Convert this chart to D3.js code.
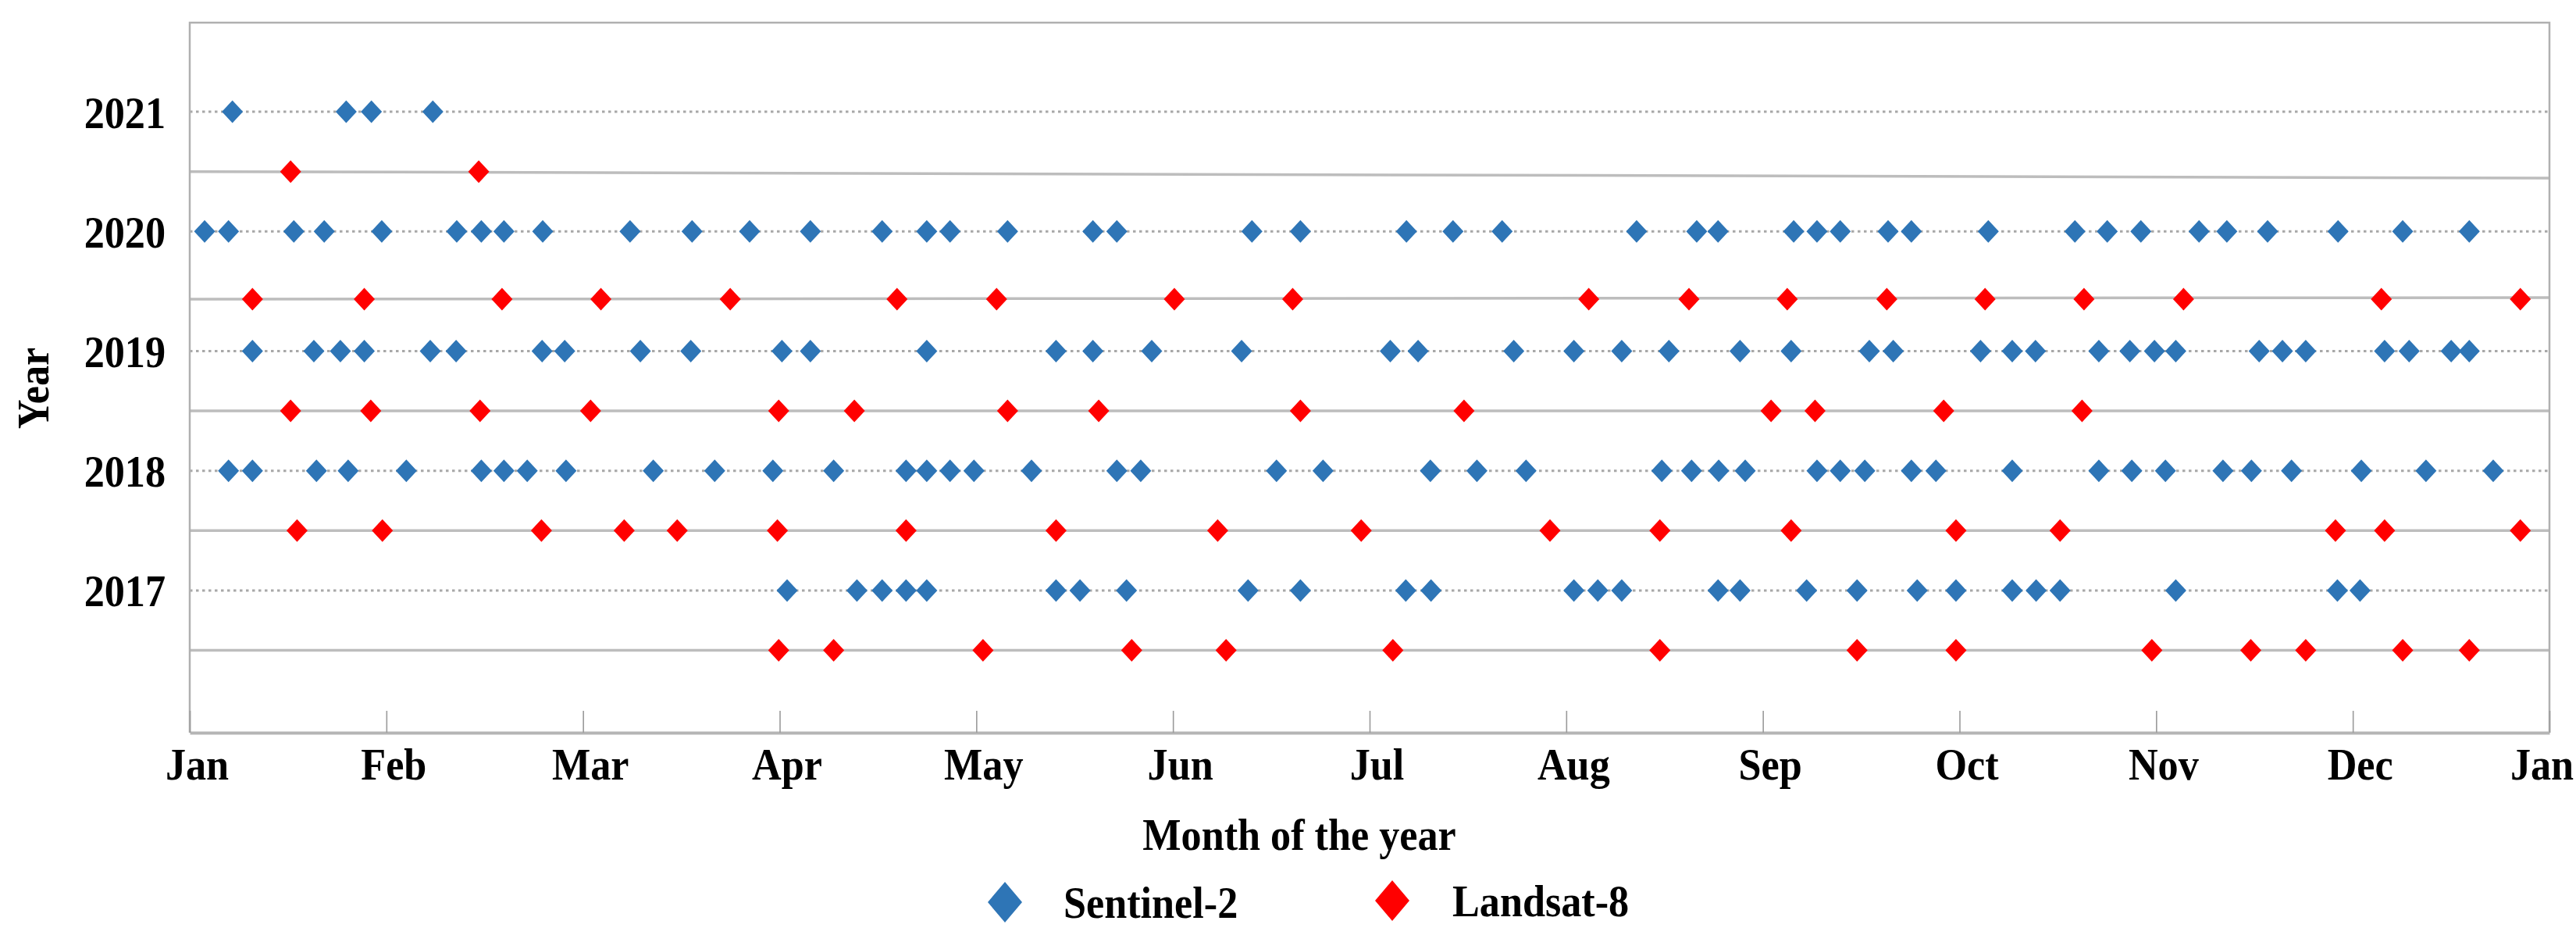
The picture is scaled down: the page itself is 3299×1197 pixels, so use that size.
<!DOCTYPE html>
<html><head><meta charset="utf-8">
<script src="https://cdn.jsdelivr.net/npm/d3@7"></script>
<style>html,body{margin:0;padding:0;background:#fff;} svg{display:block;}</style>
</head><body>
<svg id="chart" width="3299" height="1197"></svg>
<script>
// ---------- data (day of year of each acquisition) ----------
const monthLabels = ["Jan","Feb","Mar","Apr","May","Jun","Jul","Aug","Sep","Oct","Nov","Dec","Jan"];
const yearTicks = [2017, 2018, 2019, 2020, 2021];

const s2_2021 = [6.6, 24.2, 28.1, 37.6];
const s2_2020 = [2.3, 6.0, 16.1, 20.8, 29.7, 41.3, 45.1, 48.6, 54.6, 68.1, 77.7, 86.6, 96.0, 107.1, 114.0, 117.6, 126.5, 139.7, 143.4, 164.3, 171.8, 188.2, 195.4, 203.0, 223.8, 233.1, 236.4, 248.1, 251.7, 255.3, 262.7, 266.3, 278.2, 291.6, 296.6, 301.8, 310.8, 315.1, 321.4, 332.3, 342.3, 352.6];
const s2_2019 = [9.7, 19.2, 23.3, 27.0, 37.2, 41.2, 54.5, 58.0, 69.7, 77.5, 91.6, 96.0, 114.0, 134.0, 139.7, 148.8, 162.7, 185.7, 190.0, 204.8, 214.1, 221.5, 228.8, 239.8, 247.7, 259.8, 263.5, 277.0, 281.9, 285.5, 295.3, 300.1, 303.9, 307.2, 320.1, 323.7, 327.3, 339.5, 343.3, 349.8, 352.6];
const s2_2018 = [6.0, 9.7, 19.6, 24.5, 33.5, 45.1, 48.6, 52.2, 58.2, 71.7, 81.2, 90.2, 99.6, 110.8, 114.0, 117.6, 121.3, 130.2, 143.4, 147.1, 168.1, 175.3, 191.9, 199.1, 206.7, 227.7, 232.3, 236.5, 240.6, 251.7, 255.3, 259.1, 266.3, 270.1, 281.9, 295.3, 300.4, 305.6, 314.5, 318.9, 325.1, 335.9, 345.9, 356.3];
const s2_2017 = [92.4, 103.2, 107.1, 110.8, 114.0, 134.0, 137.7, 144.9, 163.7, 171.8, 188.1, 192.0, 214.1, 217.8, 221.5, 236.4, 239.8, 250.1, 257.9, 267.2, 273.2, 281.9, 285.6, 289.3, 307.2, 332.2, 335.7];

const l8_2021 = [15.6, 44.7];
const l8_2020 = [9.7, 27.0, 48.3, 63.6, 83.6, 109.4, 124.8, 152.3, 170.6, 216.4, 231.9, 247.1, 262.5, 277.7, 293.0, 308.4, 339.0, 360.5];
const l8_2019 = [15.6, 28.0, 44.9, 62.0, 91.1, 102.8, 126.5, 140.6, 171.8, 197.1, 244.6, 251.4, 271.3, 292.7];
const l8_2018 = [16.6, 29.8, 54.4, 67.2, 75.4, 90.9, 110.8, 134.0, 159.0, 181.2, 210.4, 227.4, 247.7, 273.2, 289.3, 331.9, 339.5, 360.5];
const l8_2017 = [91.1, 99.6, 122.7, 145.7, 160.3, 186.1, 227.4, 257.9, 273.2, 303.5, 318.8, 327.3, 342.3, 352.6];

// row value (y axis units) at which each Landsat year is drawn, and the guide line ends
const l8Years      = [2021, 2020, 2019, 2018, 2017];
const l8RowY       = [2020.5, 2019.434, 2018.5, 2017.5, 2016.5];
const l8LineStartY = [2020.5, 2019.434, 2018.5, 2017.5, 2016.5];
const l8LineEndY   = [2020.445, 2019.447, 2018.5, 2017.5, 2016.5];

const s2Years = [2021, 2020, 2019, 2018, 2017];
const s2Data = [s2_2021, s2_2020, s2_2019, s2_2018, s2_2017];
const l8Data = [l8_2021, l8_2020, l8_2019, l8_2018, l8_2017];

// ---------- drawing ----------
const svg = d3.select("#chart");
const L = 243, R = 3265, T = 29, B = 938;
const x = d3.scaleLinear().domain([0, 365]).range([L, R]);
const y = d3.scaleLinear().domain([2015.812, 2021.744]).range([B, T]);

const FONT = "'Liberation Serif','Times New Roman',serif";
const FS = 58, SX = 0.9;
const blue = "#2E75B6", red = "#FF0000";

const diamond = (hw, hh) => ({
  draw(ctx) { ctx.moveTo(0, -hh); ctx.lineTo(hw, 0); ctx.lineTo(0, hh); ctx.lineTo(-hw, 0); ctx.closePath(); }
});
const plotSym = d3.symbol().type(diamond(13.5, 14.5));
const legSym = d3.symbol().type(diamond(22, 26));

// dotted year gridlines
svg.append("g").selectAll("line").data(yearTicks).join("line")
  .attr("x1", x(0)).attr("x2", x(365))
  .attr("y1", d => y(d)).attr("y2", d => y(d))
  .attr("stroke", "#a8a8a8").attr("stroke-width", 3)
  .attr("stroke-dasharray", "3.5,4.5");

// solid Landsat guide lines
svg.append("g").selectAll("line").data(d3.range(l8Years.length)).join("line")
  .attr("x1", x(0)).attr("x2", x(365))
  .attr("y1", i => y(l8LineStartY[i])).attr("y2", i => y(l8LineEndY[i]))
  .attr("stroke", "#bdbdbd").attr("stroke-width", 3.5);

// frame (top, left, right)
svg.append("path")
  .attr("d", `M${L},${B} L${L},${T} L${R},${T} L${R},${B}`)
  .attr("fill", "none").attr("stroke", "#b0b0b0").attr("stroke-width", 2.5);

// x axis
const tickVals = d3.range(13).map(i => i * 365 / 12);
const xAxis = svg.append("g").attr("transform", `translate(0,${B})`)
  .call(d3.axisBottom(x).tickValues(tickVals).tickFormat((d, i) => monthLabels[i])
    .tickSizeInner(-28).tickSizeOuter(0));
xAxis.select(".domain").attr("stroke", "#b5b5b5").attr("stroke-width", 4);
xAxis.selectAll(".tick line").attr("stroke", "#9a9a9a").attr("stroke-width", 1.6);
xAxis.selectAll(".tick text")
  .attr("font-family", FONT).attr("font-weight", "bold").attr("font-size", FS)
  .attr("fill", "#000").attr("y", 0).attr("dy", 0)
  .attr("transform", (d, i) => `translate(${i === 12 ? -10 : 9},60) scale(${SX},1)`);

// y axis
const yAxis = svg.append("g").attr("transform", `translate(${L},0)`)
  .call(d3.axisLeft(y).tickValues(yearTicks).tickFormat(d3.format("d")).tickSize(0).tickPadding(0));
yAxis.select(".domain").remove();
yAxis.selectAll(".tick text")
  .attr("font-family", FONT).attr("font-weight", "bold").attr("font-size", FS)
  .attr("fill", "#000").attr("x", 0).attr("dy", 0)
  .attr("transform", `translate(-31,20) scale(${SX},1)`);

// Sentinel-2 points
s2Data.forEach((arr, k) => {
  svg.append("g").selectAll("path").data(arr).join("path")
    .attr("d", plotSym)
    .attr("transform", d => `translate(${x(d)},${y(s2Years[k])})`)
    .attr("fill", blue);
});
// Landsat-8 points
l8Data.forEach((arr, k) => {
  svg.append("g").selectAll("path").data(arr).join("path")
    .attr("d", plotSym)
    .attr("transform", d => `translate(${x(d)},${y(l8RowY[k])})`)
    .attr("fill", red);
});

// axis titles
svg.append("text").text("Year")
  .attr("font-family", FONT).attr("font-weight", "bold").attr("font-size", FS)
  .attr("text-anchor", "middle")
  .attr("transform", `translate(62,497) rotate(-90) scale(${SX},1)`);
svg.append("text").text("Month of the year")
  .attr("font-family", FONT).attr("font-weight", "bold").attr("font-size", FS)
  .attr("text-anchor", "middle")
  .attr("transform", `translate(1664,1088) scale(${SX},1)`);

// legend
const legendItems = [
  {name: "Sentinel-2", color: blue, sx: 1287, sy: 1155, tx: 1362, ty: 1175},
  {name: "Landsat-8", color: red, sx: 1783, sy: 1153, tx: 1860, ty: 1173}
];
const lg = svg.append("g").selectAll("g").data(legendItems).join("g");
lg.append("path").attr("d", legSym)
  .attr("transform", d => `translate(${d.sx},${d.sy})`).attr("fill", d => d.color);
lg.append("text").text(d => d.name)
  .attr("font-family", FONT).attr("font-weight", "bold").attr("font-size", FS)
  .attr("transform", d => `translate(${d.tx},${d.ty}) scale(${SX},1)`);
</script>
</body></html>
